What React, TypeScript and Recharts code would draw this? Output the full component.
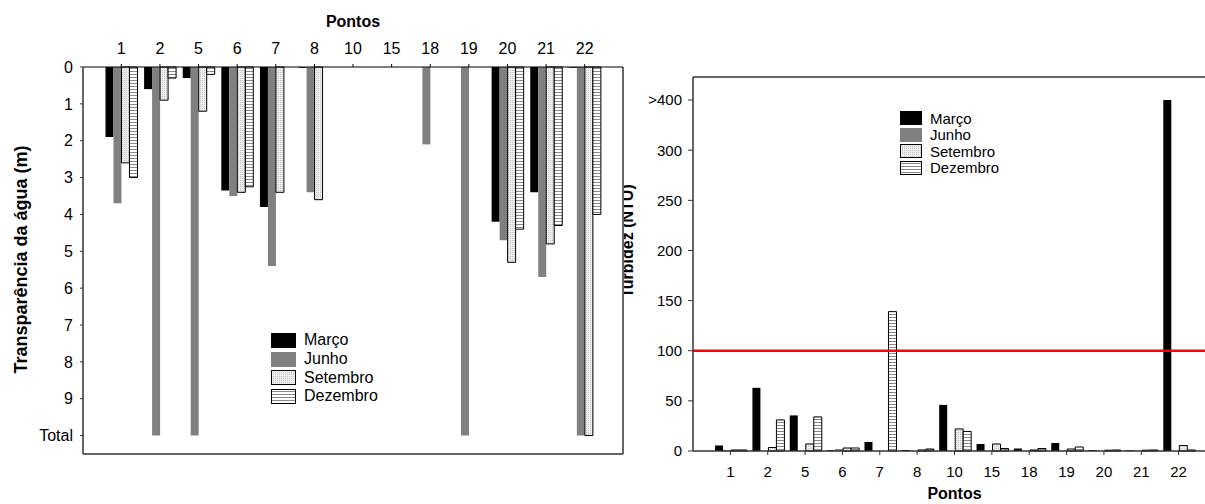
import React from 'react';
import {
  BarChart,
  Bar,
  XAxis,
  YAxis,
  Legend,
  CartesianGrid,
  ReferenceLine,
} from 'recharts';

// Sampling points (same for both panels)
const pontos = ['1', '2', '5', '6', '7', '8', '10', '15', '18', '19', '20', '21', '22'];

// Water transparency (m). TOTAL = visible all the way to the bottom.
const TOTAL = 10;
const transpMarco = [1.9, 0.6, 0.3, 3.35, 3.8, 0.02, null, null, null, null, 4.2, 3.4, 0.02];
const transpJunho = [3.7, TOTAL, TOTAL, 3.5, 5.4, 3.4, null, null, 2.1, TOTAL, 4.7, 5.7, TOTAL];
const transpSetembro = [2.6, 0.9, 1.2, 3.4, 3.4, 3.6, null, null, null, null, 5.3, 4.8, TOTAL];
const transpDezembro = [3.0, 0.3, 0.2, 3.25, null, null, null, null, null, null, 4.4, 4.3, 4.0];
const transpTicks = [0, 1, 2, 3, 4, 5, 6, 7, 8, 9, TOTAL];

// Turbidity (NTU). Readings above 400 are plotted at the ">400" tick.
const OVER_400 = 350;
const turbMarco = [5.5, 63, 35.5, 1, 9, 1, 46, 7, 2.5, 8, 1, 0.7, OVER_400];
const turbJunho = [1, 0, 0, 2, 0, 0, 0, 0, 0, 0, 0, 0, 0];
const turbSetembro = [1, 3.5, 7, 3, 0, 1, 22, 7, 1, 2, 0.8, 0.8, 5.5];
const turbDezembro = [1, 31, 34, 3, 139, 2, 19.5, 2.5, 2.5, 4, 1, 1, 1];
const turbTicks = [0, 50, 100, 150, 200, 250, 300, OVER_400];
const turbLimit = 100;

const transpData = pontos.map((p, i) => ({
  ponto: p,
  marco: transpMarco[i],
  junho: transpJunho[i],
  setembro: transpSetembro[i],
  dezembro: transpDezembro[i],
}));

const turbData = pontos.map((p, i) => ({
  ponto: p,
  marco: turbMarco[i],
  junho: turbJunho[i],
  setembro: turbSetembro[i],
  dezembro: turbDezembro[i],
}));

const FONT = '"Liberation Sans", Arial, Helvetica, sans-serif';
const AXIS = '#333';

const series = [
  { key: 'marco', name: 'Março', fill: '#000000', stroke: 'none' },
  { key: 'junho', name: 'Junho', fill: '#808080', stroke: 'none' },
  { key: 'setembro', name: 'Setembro', fill: 'url(#dots)', stroke: '#000' },
  { key: 'dezembro', name: 'Dezembro', fill: 'url(#hlines)', stroke: '#000' },
];

function Patterns() {
  return (
    <svg width={0} height={0} style={{ position: 'absolute' }}>
      <defs>
        <pattern id="dots" width={2} height={2} patternUnits="userSpaceOnUse">
          <rect width={2} height={2} fill="#eeeeee" />
          <rect width={1} height={1} fill="#c4c4c4" />
        </pattern>
        <pattern id="hlines" width={3} height={3} patternUnits="userSpaceOnUse">
          <rect width={3} height={3} fill="#ffffff" />
          <rect y={2} width={3} height={1} fill="#8a8a8a" />
        </pattern>
      </defs>
    </svg>
  );
}

// legend keeps the series order (Março, Junho, Setembro, Dezembro)
function LegendBox({ payload, fontSize, sw, sh, row }: any) {
  const shown = new Set((payload || []).map((e: any) => e.value));
  return (
    <div style={{ fontFamily: FONT, color: '#000' }}>
      {series
        .filter((s) => shown.has(s.name))
        .map((s) => (
          <div key={s.key} style={{ display: 'flex', alignItems: 'center', height: row }}>
            <svg width={sw} height={sh} style={{ display: 'block' }}>
              <rect
                x={0.5}
                y={0.5}
                width={sw - 1}
                height={sh - 1}
                fill={s.fill}
                stroke={s.stroke === 'none' ? s.fill : '#000'}
              />
            </svg>
            <span style={{ marginLeft: 8, fontSize, lineHeight: 1 }}>{s.name}</span>
          </div>
        ))}
    </div>
  );
}

function VerticalTitle({ viewBox, text, dx, dy, size }: any) {
  const cx = viewBox.x + dx;
  const cy = viewBox.y + viewBox.height / 2 + dy;
  return (
    <text
      x={cx}
      y={cy}
      transform={`rotate(-90 ${cx} ${cy})`}
      textAnchor="middle"
      dominantBaseline="central"
      fontFamily={FONT}
      fontWeight="bold"
      fontSize={size}
      fill="#000"
    >
      {text}
    </text>
  );
}

function HorizontalTitle({ viewBox, text, dy }: any) {
  return (
    <text
      x={viewBox.x + viewBox.width / 2}
      y={viewBox.y + dy}
      textAnchor="middle"
      fontFamily={FONT}
      fontWeight="bold"
      fontSize={16}
      fill="#000"
    >
      {text}
    </text>
  );
}

// frame lines on the far edges of the plot area
const bottomEdge = ({ offset }: any) => [offset.top + offset.height];
const topEdge = ({ offset }: any) => [offset.top];
const rightEdge = ({ offset }: any) => [offset.left + offset.width];

function TransparenciaChart() {
  return (
    <BarChart
      width={624}
      height={504}
      data={transpData}
      margin={{ top: 0, right: 1, bottom: 50, left: 0 }}
      barCategoryGap="9%"
      barGap={0}
    >
      <CartesianGrid
        stroke={AXIS}
        strokeWidth={1.5}
        horizontalCoordinatesGenerator={bottomEdge}
        verticalCoordinatesGenerator={rightEdge}
      />
      <XAxis
        dataKey="ponto"
        orientation="top"
        height={67}
        padding={{ left: 19, right: 19 }}
        tickSize={3}
        tickMargin={10}
        tick={{ fontSize: 16, fill: '#000', fontFamily: FONT }}
        axisLine={{ stroke: '#000' }}
        tickLine={{ stroke: '#000' }}
        label={(p: any) => <HorizontalTitle {...p} text="Pontos" dy={27} />}
      />
      <YAxis
        type="number"
        domain={[0, 10.5]}
        reversed
        ticks={transpTicks}
        interval={0}
        tickFormatter={(v: number) => (v === TOTAL ? 'Total' : String(v))}
        width={83}
        tickSize={3}
        tickMargin={7}
        tick={{ fontSize: 16, fill: '#000', fontFamily: FONT }}
        axisLine={{ stroke: AXIS, strokeWidth: 1.5 }}
        tickLine={{ stroke: AXIS }}
        label={(p: any) => (
          <VerticalTitle {...p} text="Transparência da água (m)" dx={21} dy={-1} size={18} />
        )}
      />
      {series.map((s) => (
        <Bar
          key={s.key}
          dataKey={s.key}
          name={s.name}
          fill={s.fill}
          stroke={s.stroke}
          strokeWidth={1}
          isAnimationActive={false}
        />
      ))}
      <Legend
        layout="vertical"
        align="center"
        verticalAlign="middle"
        wrapperStyle={{ left: 271, top: 331, width: 'auto' }}
        content={(p: any) => <LegendBox {...p} fontSize={16} sw={25} sh={15} row={18.7} />}
      />
    </BarChart>
  );
}

function TurbidezChart() {
  return (
    <BarChart
      width={620}
      height={520}
      data={turbData}
      margin={{ top: 77, right: 4, bottom: 0, left: 0 }}
      barCategoryGap="9%"
      barGap={0}
    >
      <CartesianGrid
        stroke={AXIS}
        strokeWidth={1.5}
        horizontalCoordinatesGenerator={topEdge}
        verticalCoordinatesGenerator={rightEdge}
      />
      <XAxis
        dataKey="ponto"
        height={69}
        padding={{ left: 18.7, right: 18.7 }}
        tickSize={4}
        tickMargin={11}
        tick={{ fontSize: 15, fill: '#000', fontFamily: FONT }}
        axisLine={{ stroke: AXIS, strokeWidth: 1.5 }}
        tickLine={{ stroke: AXIS }}
        label={(p: any) => <HorizontalTitle {...p} text="Pontos" dy={48} />}
      />
      <YAxis
        type="number"
        domain={[0, 373]}
        ticks={turbTicks}
        interval={0}
        tickFormatter={(v: number) => (v === OVER_400 ? '>400' : String(v))}
        width={93}
        tickSize={5}
        tickMargin={6}
        tick={{ fontSize: 15, fill: '#000', fontFamily: FONT }}
        axisLine={{ stroke: AXIS, strokeWidth: 1.5 }}
        tickLine={{ stroke: AXIS }}
        label={(p: any) => <VerticalTitle {...p} text="Turbidez (NTU)" dx={27} dy={-23} size={16} />}
      />
      <ReferenceLine y={turbLimit} stroke="#ff0000" strokeWidth={2.5} />
      {series.map((s) => (
        <Bar
          key={s.key}
          dataKey={s.key}
          name={s.name}
          fill={s.fill}
          stroke={s.stroke}
          strokeWidth={1}
          isAnimationActive={false}
        />
      ))}
      <Legend
        layout="vertical"
        align="center"
        verticalAlign="middle"
        wrapperStyle={{ left: 300, top: 110, width: 'auto' }}
        content={(p: any) => <LegendBox {...p} fontSize={15} sw={22} sh={14} row={16.5} />}
      />
    </BarChart>
  );
}

export default function App() {
  return (
    <div
      style={{
        position: 'absolute',
        left: 0,
        top: 0,
        width: 1205,
        height: 504,
        overflow: 'hidden',
        background: '#fff',
        fontFamily: FONT,
      }}
    >
      <Patterns />
      <div style={{ position: 'absolute', left: 600, top: 0 }}>
        <TurbidezChart />
      </div>
      <div style={{ position: 'absolute', left: 0, top: 0, width: 624, height: 504, background: '#fff' }}>
        <TransparenciaChart />
      </div>
    </div>
  );
}
